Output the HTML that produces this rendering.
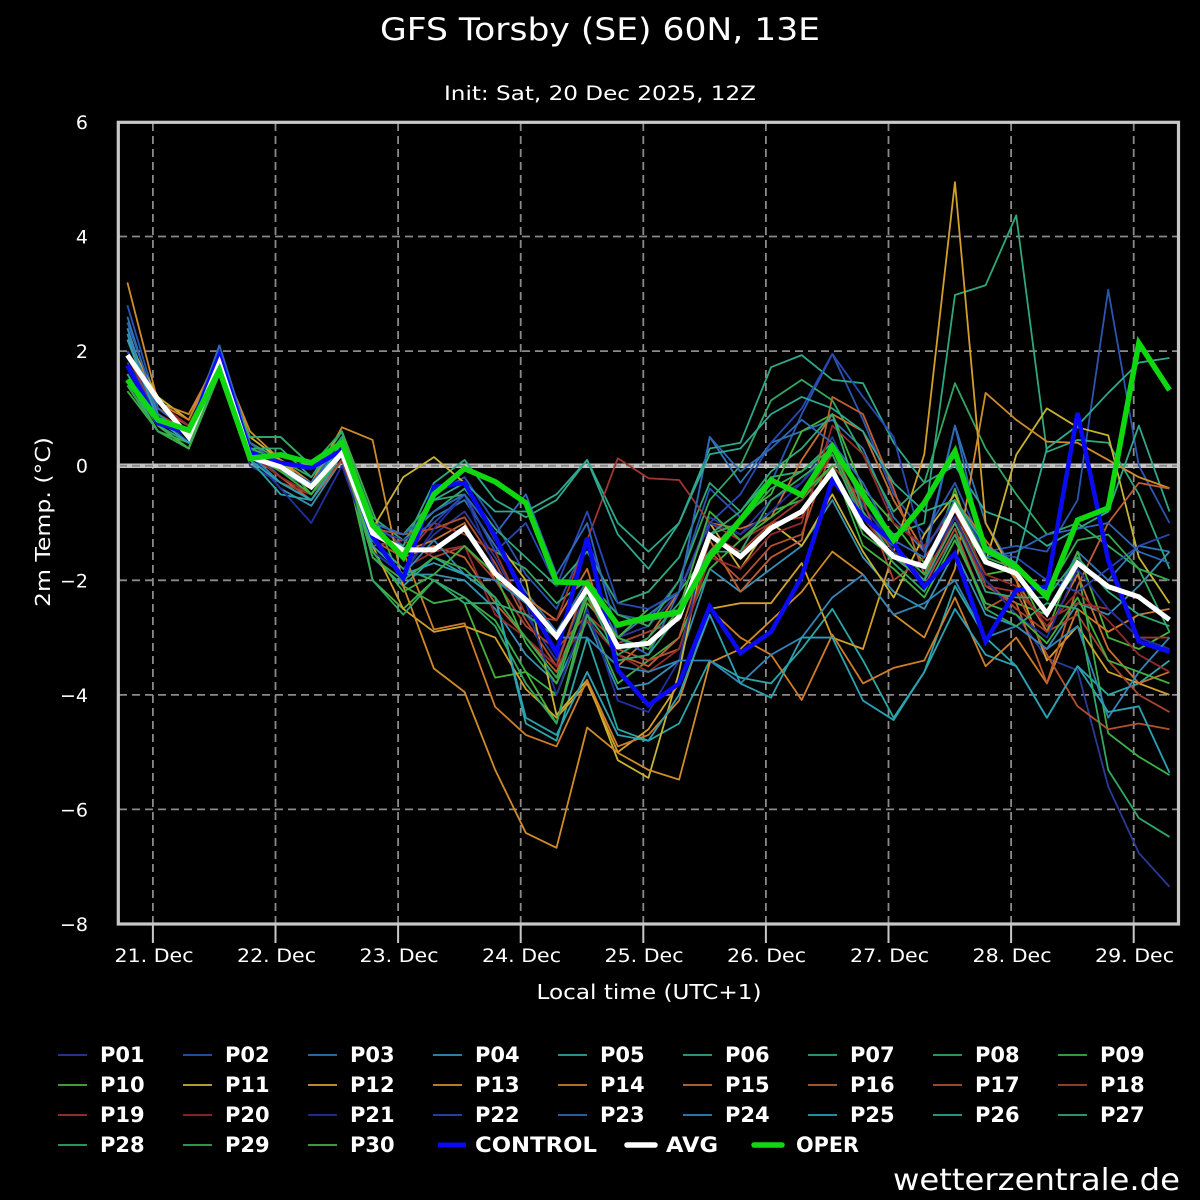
<!DOCTYPE html>
<html><head><meta charset="utf-8"><style>
html,body{margin:0;padding:0;background:#000;}
svg{display:block;}
.s polyline{fill:none;vector-effect:non-scaling-stroke;stroke-width:1.8;stroke-linejoin:round;}
text{font-family:"DejaVu Sans","Liberation Sans",sans-serif;fill:#fff;}
</style></head><body>
<svg width="1200" height="1200" viewBox="0 0 1200 1200" xmlns="http://www.w3.org/2000/svg">
<rect width="1200" height="1200" fill="#000"/>
<text x="600" y="40" font-size="31" text-anchor="middle" textLength="440" lengthAdjust="spacingAndGlyphs">GFS Torsby (SE) 60N, 13E</text>
<text x="600" y="100" font-size="19.5" text-anchor="middle" textLength="312" lengthAdjust="spacingAndGlyphs">Init: Sat, 20 Dec 2025, 12Z</text>

<!-- grid -->
<g stroke="#8a8a8a" stroke-width="1.8" stroke-dasharray="8,5" fill="none">
<line x1="119" y1="236.5" x2="1178" y2="236.5"/>
<line x1="119" y1="351.1" x2="1178" y2="351.1"/>
<line x1="119" y1="580.3" x2="1178" y2="580.3"/>
<line x1="119" y1="694.9" x2="1178" y2="694.9"/>
<line x1="119" y1="809.4" x2="1178" y2="809.4"/>
<line x1="152.9" y1="123" x2="152.9" y2="923"/>
<line x1="275.5" y1="123" x2="275.5" y2="923"/>
<line x1="398.1" y1="123" x2="398.1" y2="923"/>
<line x1="520.7" y1="123" x2="520.7" y2="923"/>
<line x1="643.3" y1="123" x2="643.3" y2="923"/>
<line x1="765.9" y1="123" x2="765.9" y2="923"/>
<line x1="888.5" y1="123" x2="888.5" y2="923"/>
<line x1="1011.1" y1="123" x2="1011.1" y2="923"/>
<line x1="1133.7" y1="123" x2="1133.7" y2="923"/>
</g>
<line x1="119" y1="465.7" x2="1178" y2="465.7" stroke="#c4c4c4" stroke-width="4.5"/>
<line x1="119" y1="465.7" x2="1178" y2="465.7" stroke="#8a8a8a" stroke-width="2" stroke-dasharray="8,5"/>

<!-- series -->
<g class="s" transform="matrix(30.65,0,0,-57.29,127.4,465.7)">
<polyline stroke="#2b3a96" points="0,1.8 1,0.9 2,0.4 3,1.9 4,0.0 5,-0.3 6,-0.6 7,0.1 8,-1.3 9,-1.8 10,-1.2 11,-0.8 12,-1.6 13,-2.6 14,-3.4 15,-2.2 16,-3.0 17,-2.8 18,-2.2 19,-0.9 20,-1.2 21,-0.6 22,-0.3 23,0.5 24,-0.7 25,-1.4 26,-2.0 27,-1.2 28,-2.4 29,-2.6 30,-3.36 31,-3.57 32,-5.6 33,-6.76 34,-7.35"/>
<polyline stroke="#2b55b0" points="0,2.8 1,1.0 2,0.6 3,2.0 4,0.3 5,-0.2 6,-0.5 7,0.3 8,-1.0 9,-1.4 10,-0.5 11,-0.2 12,-1.0 13,-1.9 14,-2.5 15,-1.3 16,-2.6 17,-2.7 18,-2.0 19,-0.4 20,-0.9 21,-0.3 22,0.9 23,1.95 24,0.8 25,-0.5 26,-1.2 27,-0.3 28,-1.5 29,-1.4 30,-1.5 31,-0.6 32,3.07 33,0.0 34,-1.0"/>
<polyline stroke="#3275b5" points="0,2.6 1,0.9 2,0.5 3,2.1 4,0.4 5,0.0 6,-0.3 7,0.4 8,-1.1 9,-1.6 10,-0.9 11,-0.6 12,-1.4 13,-2.2 14,-2.9 15,-2.0 16,-3.0 17,-2.6 18,-2.2 19,0.5 20,-0.3 21,0.4 22,0.6 23,0.8 24,0.3 25,-0.9 26,-1.5 27,0.7 28,-1.0 29,-1.9 30,-2.6 31,-1.5 32,-2.0 33,-1.4 34,-1.5"/>
<polyline stroke="#3790b4" points="0,2.4 1,0.8 2,0.4 3,1.8 4,0.2 5,-0.4 6,-0.7 7,0.1 8,-1.5 9,-1.9 10,-1.9 11,-2.0 12,-2.5 13,-3.3 14,-3.8 15,-2.7 16,-3.9 17,-3.8 18,-3.4 19,-1.8 20,-2.2 21,-1.8 22,-1.4 23,-0.6 24,-1.6 25,-2.2 26,-2.5 27,-1.5 28,-2.6 29,-2.8 30,-3.2 31,-2.4 32,-2.6 33,-2.1 34,-1.5"/>
<polyline stroke="#2aa6a6" points="0,2.3 1,0.7 2,0.3 3,1.7 4,0.1 5,-0.5 6,-0.6 7,0.2 8,-1.6 9,-2.1 10,-1.6 11,-1.9 12,-2.3 13,-4.5 14,-4.8 15,-3.0 16,-4.6 17,-4.8 18,-4.5 19,-3.4 20,-3.7 21,-3.8 22,-3.2 23,-2.5 24,-3.4 25,-4.4 26,-3.6 27,-2.1 28,-3.0 29,-3.5 30,-4.4 31,-3.5 32,-4.0 33,-3.8 34,-3.4"/>
<polyline stroke="#2fa88a" points="0,1.5 1,0.6 2,0.3 3,1.6 4,0.2 5,-0.2 6,-0.5 7,0.3 8,-1.2 9,-1.4 10,-0.3 11,0.1 12,-0.6 13,-0.9 14,-0.6 15,0.1 16,-1.0 17,-1.5 18,-1.0 19,0.3 20,0.4 21,1.72 22,1.93 23,1.5 24,1.44 25,0.4 26,-0.3 27,0.0 28,-0.8 29,-1.0 30,-1.4 31,-1.1 32,-0.8 33,0.7 34,-0.8"/>
<polyline stroke="#2ea87a" points="0,1.6 1,0.7 2,0.4 3,1.9 4,0.3 5,0.0 6,-0.3 7,0.5 8,-0.9 9,-1.3 10,-0.8 11,-0.4 12,-1.1 13,-1.6 14,-2.1 15,-1.5 16,-2.4 17,-2.2 18,-1.6 19,-0.3 20,-0.8 21,-0.2 22,-0.1 23,0.4 24,-0.6 25,-1.2 26,-1.0 27,2.98 28,3.15 29,4.37 30,0.24 31,0.45 32,0.4 33,-0.5 34,-1.8"/>
<polyline stroke="#31a862" points="0,1.4 1,0.6 2,0.3 3,1.7 4,0.4 5,0.1 6,-0.2 7,0.6 8,-1.0 9,-1.2 10,-0.6 11,-0.5 12,-1.5 13,-1.8 14,-2.4 15,-2.0 16,-2.6 17,-2.8 18,-2.0 19,-0.6 20,0.0 21,1.14 22,1.5 23,1.14 24,0.2 25,-0.8 26,-0.3 27,1.44 28,0.3 29,-0.5 30,-1.2 31,-1.0 32,-1.4 33,-1.8 34,-2.9"/>
<polyline stroke="#3cae48" points="0,1.3 1,0.6 2,0.3 3,1.6 4,0.5 5,0.5 6,0.0 7,0.6 8,-0.8 9,-2.1 10,-2.4 11,-2.3 12,-2.7 13,-3.6 14,-4.0 15,-2.6 16,-3.8 17,-3.4 18,-3.0 19,-1.8 20,-1.3 21,-0.8 22,-0.6 23,0.0 24,-1.2 25,-1.6 26,-2.0 27,-0.4 28,-2.1 29,-2.4 30,-2.6 31,-1.8 32,-4.67 33,-5.08 34,-5.40"/>
<polyline stroke="#46b43a" points="0,1.4 1,0.6 2,0.4 3,1.7 4,0.3 5,0.1 6,-0.5 7,0.3 8,-2.0 9,-2.5 10,-2.0 11,-2.4 12,-3.7 13,-3.6 14,-4.5 15,-2.4 16,-3.0 17,-2.5 18,-2.2 19,-1.5 20,-0.9 21,-0.5 22,0.6 23,0.9 24,-0.4 25,-1.0 26,-1.7 27,-0.9 28,-1.9 29,-1.8 30,-2.9 31,-1.5 32,-3.0 33,-3.2 34,-2.9"/>
<polyline stroke="#c8b432" points="0,2.2 1,1.2 2,0.8 3,1.9 4,0.5 5,0.1 6,-0.4 7,0.3 8,-1.1 9,-0.2 10,0.15 11,-0.3 12,-1.3 13,-2.0 14,-4.35 15,-3.74 16,-5.14 17,-5.45 18,-3.6 19,-1.0 20,-1.8 21,-1.0 22,-1.4 23,-0.5 24,-1.5 25,-2.3 26,-1.2 27,-0.5 28,-1.7 29,0.19 30,1.0 31,0.67 32,0.53 33,-1.6 34,-2.4"/>
<polyline stroke="#d2a028" points="0,2.0 1,1.0 2,0.7 3,1.8 4,0.3 5,0.0 6,-0.4 7,0.2 8,-1.4 9,-2.5 10,-2.9 11,-2.8 12,-3.0 13,-3.9 14,-4.4 15,-3.8 16,-5.0 17,-4.6 18,-3.8 19,-2.5 20,-2.4 21,-2.4 22,-1.7 23,-3.0 24,-3.2 25,-1.5 26,0.2 27,4.95 28,-1.0 29,-2.0 30,-3.4 31,-2.8 32,-3.6 33,-3.8 34,-4.0"/>
<polyline stroke="#d08c28" points="0,3.2 1,1.1 2,0.9 3,1.9 4,0.6 5,0.1 6,-0.3 7,0.67 8,0.45 9,-2.1 10,-3.54 11,-3.95 12,-5.31 13,-6.41 14,-6.67 15,-4.57 16,-5.01 17,-5.31 18,-5.48 19,-3.44 20,-3.2 21,-2.7 22,-2.2 23,-1.5 24,-1.9 25,-2.6 26,-3.0 27,-1.8 28,1.27 29,0.8 30,0.42 31,0.4 32,0.1 33,-0.2 34,-0.39"/>
<polyline stroke="#cf7d2a" points="0,2.2 1,1.1 2,0.8 3,2.0 4,0.4 5,0.0 6,-0.3 7,0.3 8,-1.2 9,-1.5 10,-2.86 11,-2.75 12,-4.21 13,-4.7 14,-4.9 15,-3.74 16,-4.9 17,-4.7 18,-4.1 19,-2.5 20,-3.0 21,-3.3 22,-4.09 23,-2.95 24,-3.8 25,-3.53 26,-3.4 27,-2.3 28,-3.5 29,-3.0 30,-3.8 31,-2.5 32,-2.9 33,-2.6 34,-2.5"/>
<polyline stroke="#c86e30" points="0,2.0 1,1.0 2,0.6 3,1.8 4,0.3 5,-0.1 6,-0.4 7,0.2 8,-1.2 9,-1.5 10,-1.3 11,-1.0 12,-2.0 13,-2.3 14,-2.7 15,-1.8 16,-3.5 17,-3.0 18,-2.2 19,-1.0 20,-1.1 21,-0.9 22,0.1 23,0.9 24,0.6 25,-0.6 26,-1.5 27,-0.6 28,-1.3 29,-2.0 30,-2.9 31,-1.9 32,-3.2 33,-3.8 34,-3.6"/>
<polyline stroke="#bd5f30" points="0,1.9 1,1.0 2,0.6 3,1.8 4,0.2 5,-0.2 6,-0.6 7,0.1 8,-1.3 9,-1.6 10,-1.4 11,-1.6 12,-2.4 13,-3.0 14,-3.6 15,-2.3 16,-3.3 17,-3.5 18,-3.0 19,-1.3 20,-2.2 21,-1.6 22,-1.3 23,1.2 24,0.9 25,-0.4 26,-1.9 27,-1.0 28,-2.1 29,-2.4 30,-3.8 31,-2.1 32,-1.0 33,-0.3 34,-0.4"/>
<polyline stroke="#b45030" points="0,2.0 1,1.0 2,0.7 3,1.7 4,0.2 5,-0.1 6,-0.4 7,0.4 8,-1.1 9,-1.2 10,-1.1 11,-0.9 12,-1.7 13,-2.7 14,-3.5 15,-2.0 16,-3.2 17,-3.4 18,-3.2 19,-1.5 20,-2.0 21,-1.4 22,-1.2 23,0.3 24,-0.8 25,-1.5 26,-2.1 27,-1.1 28,-2.5 29,-2.2 30,-3.3 31,-4.2 32,-4.6 33,-4.5 34,-4.6"/>
<polyline stroke="#aa4230" points="0,1.9 1,0.9 2,0.6 3,1.8 4,0.1 5,-0.3 6,-0.5 7,0.1 8,-1.4 9,-1.3 10,-1.6 11,-1.4 12,-2.0 13,-2.8 14,-3.2 15,-2.6 16,-3.1 17,-2.9 18,-2.7 19,-1.2 20,-1.5 21,-1.0 22,-0.9 23,0.0 24,-0.6 25,-2.0 26,-1.6 27,-0.9 28,-2.0 29,-2.5 30,-2.9 31,-2.6 32,-3.4 33,-4.0 34,-4.3"/>
<polyline stroke="#a03530" points="0,1.9 1,1.0 2,0.6 3,1.9 4,0.2 5,-0.1 6,-0.4 7,0.3 8,-1.1 9,-1.6 10,-1.0 11,-1.2 12,-1.5 13,-2.6 14,-2.7 15,-1.3 16,0.13 17,-0.22 18,-0.25 19,-1.0 20,-1.3 21,-1.0 22,-0.6 23,0.2 24,-0.9 25,-1.6 26,-2.0 27,-0.9 28,-2.1 29,-2.2 30,-2.7 31,-2.4 32,-2.5 33,-3.0 34,-3.0"/>
<polyline stroke="#952a2a" points="0,2.0 1,1.1 2,0.7 3,1.8 4,0.2 5,-0.2 6,-0.5 7,0.2 8,-1.3 9,-1.8 10,-1.5 11,-1.4 12,-2.6 13,-3.0 14,-3.5 15,-2.7 16,-3.3 17,-3.6 18,-3.2 19,-1.6 20,-1.8 21,-1.2 22,-1.0 23,0.7 24,0.2 25,-1.0 26,-1.4 27,-0.8 28,-1.9 29,-2.1 30,-2.8 31,-2.2 32,-2.7 33,-3.3 34,-3.6"/>
<polyline stroke="#22309e" points="0,1.7 1,0.9 2,0.4 3,1.9 4,0.2 5,-0.4 6,-1.0 7,0.0 8,-1.5 9,-1.9 10,-1.1 11,-0.5 12,-1.8 13,-2.4 14,-4.0 15,-2.5 16,-4.1 17,-4.3 18,-3.4 19,-1.0 20,-1.2 21,-0.8 22,-0.3 23,0.3 24,-0.5 25,-1.5 26,-1.8 27,-0.9 28,-2.0 29,-2.6 30,-3.0 31,-1.8 32,-2.5 33,-3.0 34,-3.2"/>
<polyline stroke="#2a48b4" points="0,2.0 1,0.9 2,0.5 3,1.9 4,0.3 5,-0.1 6,-0.3 7,0.3 8,-1.1 9,-1.3 10,-1.0 11,-0.5 12,-1.5 13,-1.0 14,-2.1 15,-0.8 16,-2.4 17,-2.5 18,-2.2 19,-1.0 20,-0.5 21,0.4 22,1.0 23,1.95 24,1.2 25,0.5 26,-1.5 27,-0.6 28,-1.5 29,-1.6 30,-2.0 31,-2.2 32,-1.8 33,-1.4 34,-1.2"/>
<polyline stroke="#3068b8" points="0,2.5 1,1.0 2,0.6 3,2.1 4,0.4 5,0.0 6,-0.3 7,0.4 8,-1.0 9,-1.2 10,-0.8 11,-0.5 12,-1.2 13,-0.5 14,-1.9 15,-1.0 16,-3.0 17,-3.3 18,-2.2 19,0.5 20,-0.1 21,0.3 22,0.8 23,0.4 24,-0.3 25,-1.3 26,-1.6 27,0.7 28,-1.6 29,-1.5 30,-1.2 31,-1.1 32,-1.0 33,-1.5 34,-1.7"/>
<polyline stroke="#3384b8" points="0,2.3 1,0.9 2,0.5 3,2.0 4,0.2 5,-0.3 6,-0.6 7,0.2 8,-1.3 9,-1.9 10,-1.3 11,-1.9 12,-2.0 13,-2.4 14,-3.0 15,-3.0 16,-3.5 17,-3.6 18,-3.4 19,-3.4 20,-3.8 21,-3.3 22,-3.0 23,-2.3 24,-1.9 25,-2.6 26,-2.4 27,-2.0 28,-3.0 29,-2.8 30,-3.2 31,-2.8 32,-4.4 33,-3.6 34,-3.0"/>
<polyline stroke="#2aa2b4" points="0,2.2 1,0.8 2,0.4 3,1.9 4,0.1 5,-0.3 6,-0.6 7,0.2 8,-1.4 9,-1.9 10,-1.7 11,-1.9 12,-2.3 13,-4.4 14,-4.7 15,-3.6 16,-4.7 17,-4.8 18,-4.0 19,-2.6 20,-3.8 21,-4.05 22,-3.0 23,-3.0 24,-4.1 25,-4.44 26,-3.6 27,-2.5 28,-3.3 29,-3.5 30,-4.4 31,-3.5 32,-4.3 33,-4.2 34,-5.36"/>
<polyline stroke="#2ea890" points="0,1.6 1,0.7 2,0.3 3,1.8 4,0.3 5,-0.1 6,-0.4 7,0.4 8,-1.2 9,-1.5 10,-0.6 11,-0.3 12,-0.8 13,-0.8 14,-0.5 15,0.1 16,-1.2 17,-1.8 18,-1.0 19,0.2 20,0.3 21,0.9 22,1.2 23,1.0 24,0.6 25,-0.3 26,-0.8 27,-0.6 28,-1.4 29,-1.7 30,0.3 31,0.7 32,1.27 33,1.8 34,1.88"/>
<polyline stroke="#30a878" points="0,1.5 1,0.7 2,0.3 3,1.7 4,0.3 5,0.3 6,-0.2 7,0.5 8,-1.3 9,-1.8 10,-2.0 11,-2.4 12,-2.4 13,-2.6 14,-3.0 15,-2.2 16,-3.4 17,-3.3 18,-2.6 19,-1.2 20,-0.8 21,-0.1 22,0.3 23,0.9 24,-0.8 25,-1.6 26,-2.0 27,-1.0 28,-2.2 29,-2.3 30,-2.3 31,-1.6 32,-2.2 33,-2.6 34,-2.8"/>
<polyline stroke="#30a864" points="0,1.4 1,0.6 2,0.3 3,1.7 4,0.5 5,0.5 6,0.0 7,0.6 8,-2.0 9,-2.6 10,-2.0 11,-2.3 12,-2.8 13,-3.8 14,-4.5 15,-2.6 16,-3.3 17,-3.0 18,-2.4 19,-1.5 20,-1.5 21,-0.6 22,-0.2 23,0.2 24,-1.0 25,-1.7 26,-2.2 27,-1.2 28,-2.5 29,-2.8 30,-2.4 31,-2.5 32,-5.31 33,-6.15 34,-6.48"/>
<polyline stroke="#36aa50" points="0,1.4 1,0.6 2,0.3 3,1.6 4,0.3 5,0.0 6,-0.4 7,0.3 8,-1.6 9,-2.0 10,-1.6 11,-1.8 12,-2.3 13,-3.0 14,-3.7 15,-2.2 16,-2.8 17,-2.7 18,-2.6 19,-1.2 20,-1.0 21,-0.4 22,-0.1 23,0.3 24,-0.9 25,-1.4 26,-1.9 27,-0.6 28,-1.6 29,-1.8 30,-2.2 31,-1.3 32,-1.2 33,-1.8 34,-2.0"/>
<polyline stroke="#40b040" points="0,1.5 1,0.7 2,0.3 3,1.8 4,0.2 5,-0.1 6,-0.5 7,0.2 8,-1.5 9,-2.2 10,-1.9 11,-1.4 12,-1.9 13,-3.1 14,-3.8 15,-2.3 16,-3.0 17,-3.2 18,-2.5 19,-0.8 20,-1.3 21,-0.9 22,-0.5 23,0.0 24,-1.4 25,-1.8 26,-2.3 27,-1.3 28,-2.4 29,-2.6 30,-3.1 31,-2.3 32,-3.4 33,-3.6 34,-3.8"/>
<!-- CONTROL -->
<polyline stroke="#0a0af5" style="stroke-width:4.5;stroke-linejoin:miter" points="0,1.75 1,0.74 2,0.57 3,1.93 4,0.24 5,0.05 6,-0.04 7,0.27 8,-1.24 9,-1.97 10,-0.37 11,-0.30 12,-1.24 13,-2.34 14,-3.27 15,-1.26 16,-3.57 17,-4.18 18,-3.80 19,-2.46 20,-3.27 21,-2.90 22,-1.94 23,-0.25 24,-0.89 25,-1.35 26,-2.11 27,-1.53 28,-3.07 29,-2.17 30,-2.11 31,0.92 32,-1.65 33,-3.07 34,-3.25"/>
<!-- AVG -->
<polyline stroke="#ffffff" style="stroke-width:5;stroke-linejoin:miter" points="0,1.93 1,1.15 2,0.50 3,1.79 4,0.15 5,-0.02 6,-0.37 7,0.22 8,-1.18 9,-1.47 10,-1.47 11,-1.09 12,-1.88 13,-2.34 14,-2.98 15,-2.14 16,-3.16 17,-3.10 18,-2.64 19,-1.21 20,-1.59 21,-1.09 22,-0.80 23,-0.10 24,-1.06 25,-1.59 26,-1.76 27,-0.72 28,-1.68 29,-1.88 30,-2.58 31,-1.70 32,-2.11 33,-2.29 34,-2.69"/>
<!-- OPER -->
<polyline stroke="#10d810" style="stroke-width:5.5;stroke-linejoin:miter" points="0,1.50 1,0.80 2,0.62 3,1.67 4,0.13 5,0.19 6,0.05 7,0.40 8,-1.04 9,-1.60 10,-0.50 11,-0.05 12,-0.28 13,-0.65 14,-2.03 15,-2.05 16,-2.78 17,-2.64 18,-2.55 19,-1.60 20,-0.95 21,-0.25 22,-0.51 23,0.33 24,-0.50 25,-1.30 26,-0.65 27,0.25 28,-1.47 29,-1.76 30,-2.29 31,-0.95 32,-0.74 33,2.14 34,1.32"/>
</g>

<!-- frame -->
<rect x="118.3" y="122.3" width="1060.2" height="801.7" fill="none" stroke="#c8c8c8" stroke-width="3.2"/>
<g stroke="#c8c8c8" stroke-width="2">
<line x1="152.9" y1="925" x2="152.9" y2="943"/>
<line x1="275.5" y1="925" x2="275.5" y2="943"/>
<line x1="398.1" y1="925" x2="398.1" y2="943"/>
<line x1="520.7" y1="925" x2="520.7" y2="943"/>
<line x1="643.3" y1="925" x2="643.3" y2="943"/>
<line x1="765.9" y1="925" x2="765.9" y2="943"/>
<line x1="888.5" y1="925" x2="888.5" y2="943"/>
<line x1="1011.1" y1="925" x2="1011.1" y2="943"/>
<line x1="1133.7" y1="925" x2="1133.7" y2="943"/>
</g>

<!-- y tick labels -->
<g font-size="19" text-anchor="end">
<text x="88" y="129">6</text>
<text x="88" y="243.5">4</text>
<text x="88" y="358">2</text>
<text x="88" y="472.7">0</text>
<text x="88" y="587.3">−2</text>
<text x="88" y="701.9">−4</text>
<text x="88" y="816.4">−6</text>
<text x="88" y="931">−8</text>
</g>
<!-- x tick labels -->
<g font-size="19" text-anchor="middle">
<text x="154" y="962" textLength="79" lengthAdjust="spacingAndGlyphs">21. Dec</text>
<text x="276.5" y="962" textLength="79" lengthAdjust="spacingAndGlyphs">22. Dec</text>
<text x="399" y="962" textLength="79" lengthAdjust="spacingAndGlyphs">23. Dec</text>
<text x="521.5" y="962" textLength="79" lengthAdjust="spacingAndGlyphs">24. Dec</text>
<text x="644" y="962" textLength="79" lengthAdjust="spacingAndGlyphs">25. Dec</text>
<text x="766.5" y="962" textLength="79" lengthAdjust="spacingAndGlyphs">26. Dec</text>
<text x="889.5" y="962" textLength="79" lengthAdjust="spacingAndGlyphs">27. Dec</text>
<text x="1012" y="962" textLength="79" lengthAdjust="spacingAndGlyphs">28. Dec</text>
<text x="1134.5" y="962" textLength="79" lengthAdjust="spacingAndGlyphs">29. Dec</text>
</g>
<text x="649" y="999" font-size="20" text-anchor="middle" textLength="225" lengthAdjust="spacingAndGlyphs">Local time (UTC+1)</text>
<text transform="translate(50,522) rotate(-90)" font-size="20" text-anchor="middle" textLength="170" lengthAdjust="spacingAndGlyphs">2m Temp. (°C)</text>

<!-- legend -->
<g stroke-width="1.8">
<line x1="58" y1="1055" x2="87" y2="1055" stroke="#2b3a96"/>
<line x1="183" y1="1055" x2="212" y2="1055" stroke="#2b55b0"/>
<line x1="308" y1="1055" x2="337" y2="1055" stroke="#3275b5"/>
<line x1="433" y1="1055" x2="462" y2="1055" stroke="#3790b4"/>
<line x1="558" y1="1055" x2="587" y2="1055" stroke="#2aa6a6"/>
<line x1="683" y1="1055" x2="712" y2="1055" stroke="#2fa88a"/>
<line x1="808" y1="1055" x2="837" y2="1055" stroke="#2ea87a"/>
<line x1="933" y1="1055" x2="962" y2="1055" stroke="#31a862"/>
<line x1="1058" y1="1055" x2="1087" y2="1055" stroke="#3cae48"/>
<line x1="58" y1="1085" x2="87" y2="1085" stroke="#46b43a"/>
<line x1="183" y1="1085" x2="212" y2="1085" stroke="#c8b432"/>
<line x1="308" y1="1085" x2="337" y2="1085" stroke="#d2a028"/>
<line x1="433" y1="1085" x2="462" y2="1085" stroke="#d08c28"/>
<line x1="558" y1="1085" x2="587" y2="1085" stroke="#cf7d2a"/>
<line x1="683" y1="1085" x2="712" y2="1085" stroke="#c86e30"/>
<line x1="808" y1="1085" x2="837" y2="1085" stroke="#bd5f30"/>
<line x1="933" y1="1085" x2="962" y2="1085" stroke="#b45030"/>
<line x1="1058" y1="1085" x2="1087" y2="1085" stroke="#aa4230"/>
<line x1="58" y1="1115" x2="87" y2="1115" stroke="#a03530"/>
<line x1="183" y1="1115" x2="212" y2="1115" stroke="#952a2a"/>
<line x1="308" y1="1115" x2="337" y2="1115" stroke="#22309e"/>
<line x1="433" y1="1115" x2="462" y2="1115" stroke="#2a48b4"/>
<line x1="558" y1="1115" x2="587" y2="1115" stroke="#3068b8"/>
<line x1="683" y1="1115" x2="712" y2="1115" stroke="#3384b8"/>
<line x1="808" y1="1115" x2="837" y2="1115" stroke="#2aa2b4"/>
<line x1="933" y1="1115" x2="962" y2="1115" stroke="#2ea890"/>
<line x1="1058" y1="1115" x2="1087" y2="1115" stroke="#30a878"/>
<line x1="58" y1="1145" x2="87" y2="1145" stroke="#30a864"/>
<line x1="183" y1="1145" x2="212" y2="1145" stroke="#36aa50"/>
<line x1="308" y1="1145" x2="337" y2="1145" stroke="#40b040"/>
<line x1="438" y1="1145" x2="466" y2="1145" stroke="#0a0af5" stroke-width="5"/>
<line x1="627" y1="1145" x2="655" y2="1145" stroke="#ffffff" stroke-width="5.5" stroke-linecap="round"/>
<line x1="754" y1="1145" x2="782" y2="1145" stroke="#10d810" stroke-width="5.5" stroke-linecap="round"/>
</g>
<g font-size="21" font-weight="bold">
<text x="100" y="1062">P01</text><text x="225" y="1062">P02</text><text x="350" y="1062">P03</text><text x="475" y="1062">P04</text><text x="600" y="1062">P05</text><text x="725" y="1062">P06</text><text x="850" y="1062">P07</text><text x="975" y="1062">P08</text><text x="1100" y="1062">P09</text>
<text x="100" y="1092">P10</text><text x="225" y="1092">P11</text><text x="350" y="1092">P12</text><text x="475" y="1092">P13</text><text x="600" y="1092">P14</text><text x="725" y="1092">P15</text><text x="850" y="1092">P16</text><text x="975" y="1092">P17</text><text x="1100" y="1092">P18</text>
<text x="100" y="1122">P19</text><text x="225" y="1122">P20</text><text x="350" y="1122">P21</text><text x="475" y="1122">P22</text><text x="600" y="1122">P23</text><text x="725" y="1122">P24</text><text x="850" y="1122">P25</text><text x="975" y="1122">P26</text><text x="1100" y="1122">P27</text>
<text x="100" y="1152">P28</text><text x="225" y="1152">P29</text><text x="350" y="1152">P30</text>
<text x="475" y="1152" textLength="122" lengthAdjust="spacingAndGlyphs">CONTROL</text>
<text x="666" y="1152" textLength="52" lengthAdjust="spacingAndGlyphs">AVG</text>
<text x="796" y="1152" textLength="63" lengthAdjust="spacingAndGlyphs">OPER</text>
</g>
<text x="1180" y="1190" font-size="30" text-anchor="end" textLength="287" lengthAdjust="spacingAndGlyphs">wetterzentrale.de</text>
</svg>
</body></html>
